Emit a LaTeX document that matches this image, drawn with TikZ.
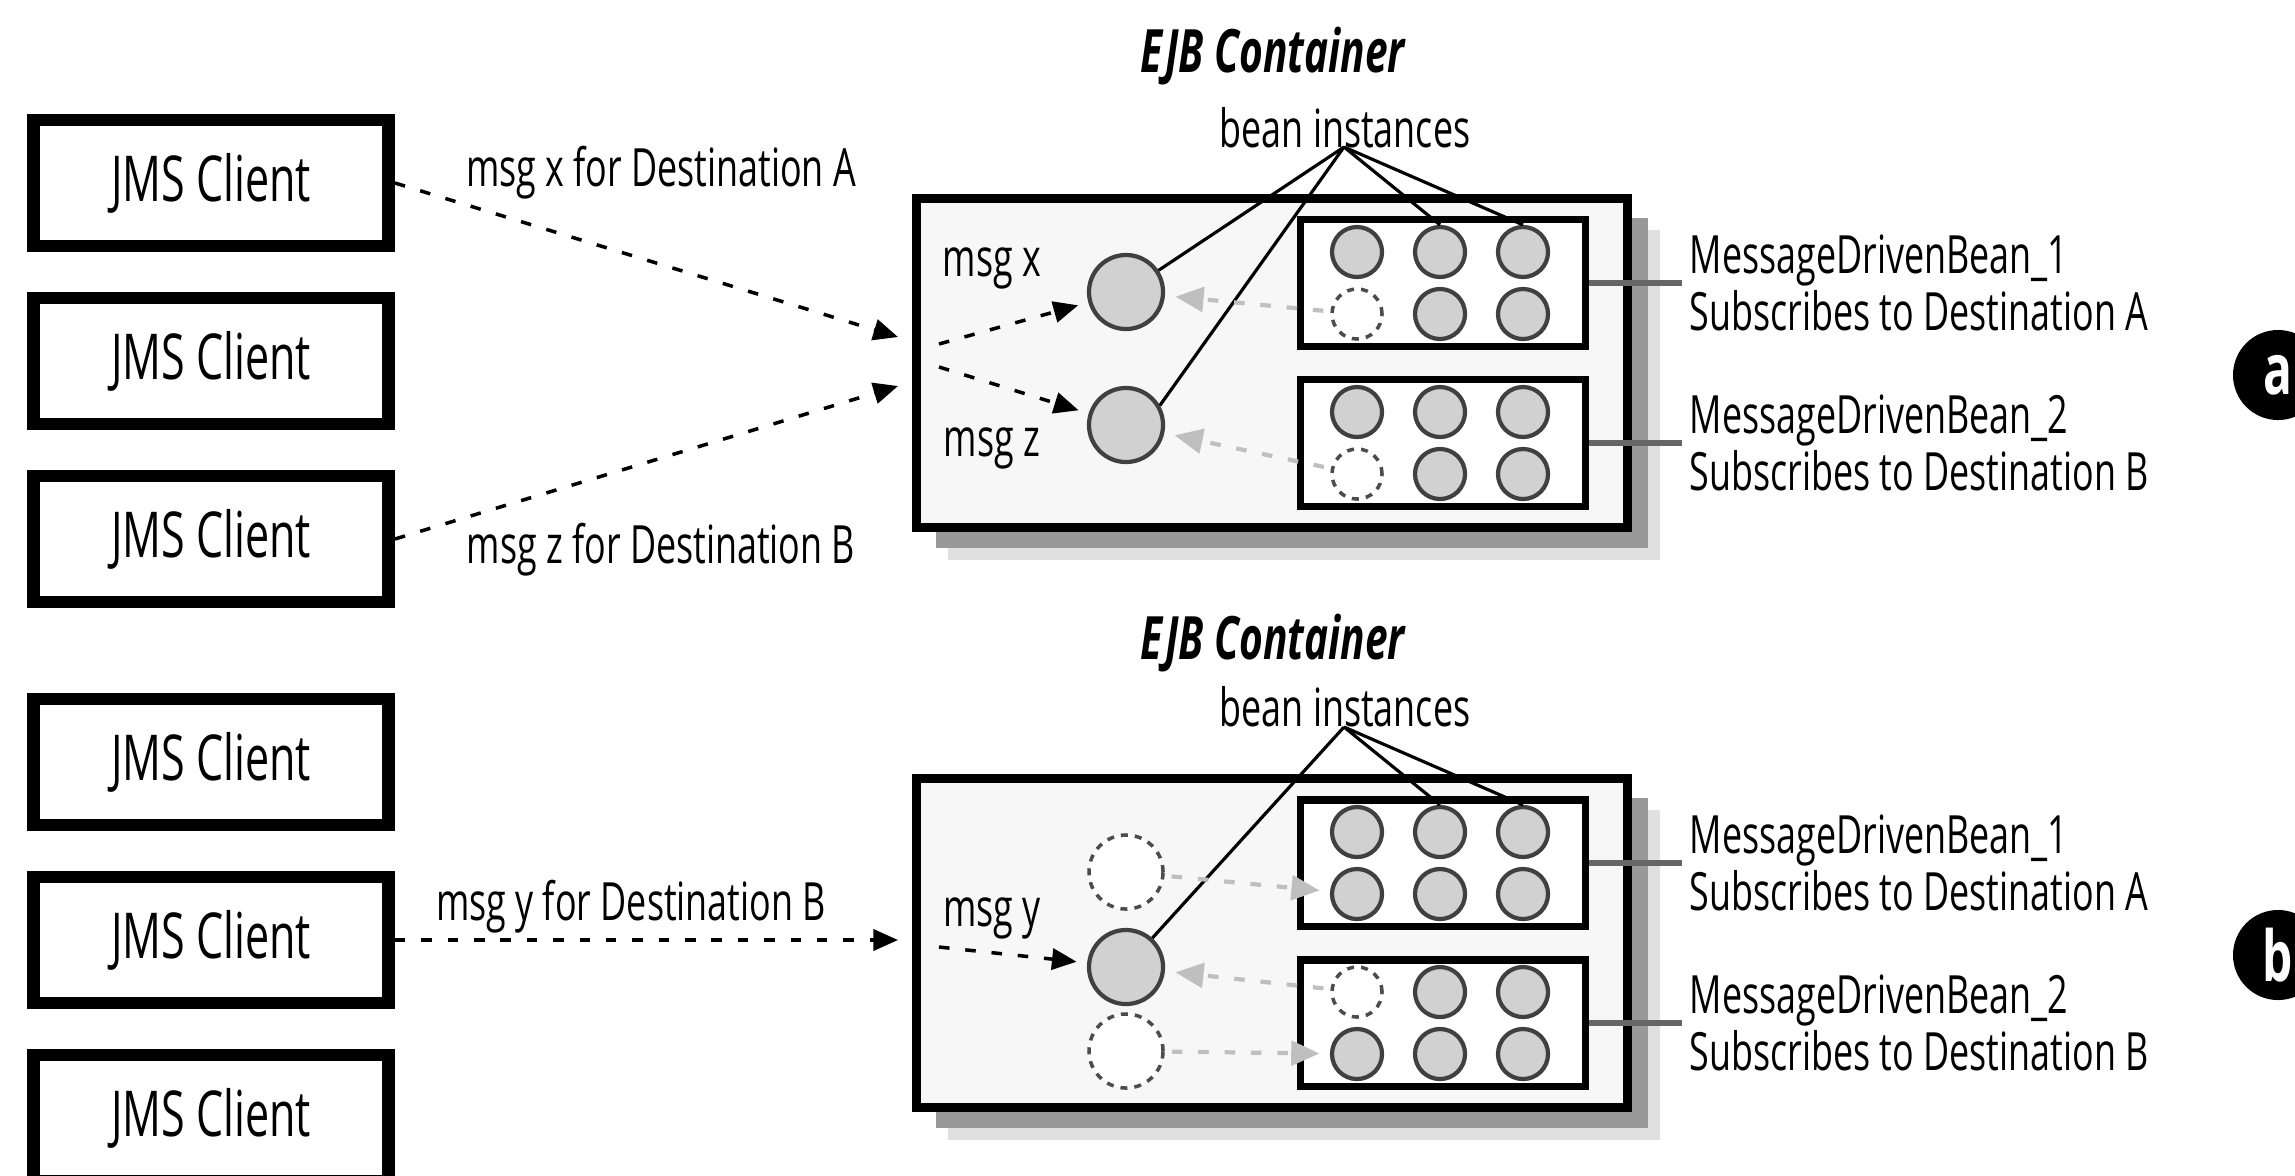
\documentclass[tikz,border=0pt]{standalone}
\usepackage{fontspec}
\setmainfont{Open Sans}[FakeStretch=0.68]
\usetikzlibrary{arrows.meta,shadows}

\begin{document}
\begin{tikzpicture}[x=0.01cm,y=-0.01cm,
    client/.style={draw,line width=3.6pt,minimum width=3.55cm,minimum height=1.26cm,inner sep=0pt,font=\fontsize{18}{18}\selectfont},
    ejb/.style={draw,line width=2.5pt,fill=black!3,minimum width=7.11cm,minimum height=3.29cm,
      drop shadow={shadow xshift=.32cm,shadow yshift=-.32cm,fill=black!12,opacity=1},
      drop shadow={shadow xshift=.2cm,shadow yshift=-.2cm,fill=black!40,opacity=1}},
    mdb/.style={draw,line width=2pt,fill=white,minimum width=2.85cm,minimum height=1.26cm},
    bean/.style={circle,draw=black!75,line width=1.2pt,fill=black!18,minimum size=.5cm,inner sep=0pt},
    idlebean/.style={circle,draw=black!70,line width=1pt,dash pattern=on 2pt off 2pt,fill=white,minimum size=.5cm,inner sep=0pt},
    bigbean/.style={bean,minimum size=.74cm},
    bigidle/.style={idlebean,minimum size=.74cm},
    lbl/.style={font=\fontsize{15}{14.5}\selectfont,inner sep=2pt,align=left},
    ejbtitle/.style={font=\fontsize{17}{17}\selectfont\bfseries\itshape},
    msg/.style={line width=1pt,dash pattern=on 3pt off 4.5pt,-{Triangle[length=7pt,width=6pt]}},
    backarrow/.style={draw=black!25,line width=1.2pt,dash pattern=on 3pt off 4.5pt,-{Triangle[length=8pt,width=7pt]},shorten >=3pt,shorten <=2pt},
    fan/.style={line width=.9pt},
    tickline/.style={draw=black!60,line width=1.5pt},
    casetag/.style={circle,fill=black,text=white,minimum size=.9cm,inner sep=0pt,font=\fontsize{20}{20}\selectfont\bfseries}]
  \useasboundingbox[fill=white] (0,0) rectangle (2295,1175);
  \path
    (211,183) node[client] (c1) {JMS Client}
    (211,361) node[client] (c2) {JMS Client}
    (211,539) node[client] (c3) {JMS Client}
    (211,762) node[client] (c4) {JMS Client}
    (211,940) node[client] (c5) {JMS Client}
    (211,1118) node[client] (c6) {JMS Client};
  \path
    (1272,363) node[ejb] (ejbA) {}
    (1272,943) node[ejb] (ejbB) {}
    (1273,56) node[ejbtitle] (titleA) {EJB Container}
    (1273,643) node[ejbtitle] (titleB) {EJB Container}
    (1345,128) node[lbl] (instA) {bean instances}
    (1345,707) node[lbl] (instB) {bean instances};
  \path
    (1443,283) node[mdb] (mdbA1) {}
    (1443,443) node[mdb] (mdbA2) {}
    (1443,863) node[mdb] (mdbB1) {}
    (1443,1023) node[mdb] (mdbB2) {};
  \path
    (1357,252) node[bean] (p11) {}
    (1440,252) node[bean] (p12) {}
    (1523,252) node[bean] (p13) {}
    (1357,314) node[idlebean] (p21) {}
    (1440,314) node[bean] (p22) {}
    (1523,314) node[bean] (p23) {}
    (1357,412) node[bean] (q11) {}
    (1440,412) node[bean] (q12) {}
    (1523,412) node[bean] (q13) {}
    (1357,474) node[idlebean] (q21) {}
    (1440,474) node[bean] (q22) {}
    (1523,474) node[bean] (q23) {}
    (1357,832) node[bean] (r11) {}
    (1440,832) node[bean] (r12) {}
    (1523,832) node[bean] (r13) {}
    (1357,894) node[bean] (r21) {}
    (1440,894) node[bean] (r22) {}
    (1523,894) node[bean] (r23) {}
    (1357,992) node[idlebean] (s11) {}
    (1440,992) node[bean] (s12) {}
    (1523,992) node[bean] (s13) {}
    (1357,1054) node[bean] (s21) {}
    (1440,1054) node[bean] (s22) {}
    (1523,1054) node[bean] (s23) {};
  \path
    (1126,292) node[bigbean] (bigx) {}
    (1126,425) node[bigbean] (bigz) {}
    (1126,872) node[bigidle] (idleu) {}
    (1126,967) node[bigbean] (bigy) {}
    (1126,1051) node[bigidle] (idled) {};
  \path
    (661,173) node[lbl] (msgxA) {msg x for Destination A}
    (661,550) node[lbl] (msgzA) {msg z for Destination B}
    (631,907) node[lbl] (msgyB) {msg y for Destination B}
    (992,268) node[lbl] (xtag) {msg x}
    (992,448) node[lbl] (ztag) {msg z}
    (992,918) node[lbl] (ytag) {msg y};
  \path
    (1682,283) node[lbl,anchor=west] (mdbA1l) {MessageDrivenBean\_1\\Subscribes to Destination A}
    (1682,443) node[lbl,anchor=west] (mdbA2l) {MessageDrivenBean\_2\\Subscribes to Destination B}
    (1682,863) node[lbl,anchor=west] (mdbB1l) {MessageDrivenBean\_1\\Subscribes to Destination A}
    (1682,1023) node[lbl,anchor=west] (mdbB2l) {MessageDrivenBean\_2\\Subscribes to Destination B};
  \path
    (2278,375) node[casetag] (tagA) {a}
    (2278,955) node[casetag] (tagB) {b};
  \coordinate (inA1) at (898,337);
  \coordinate (inA2) at (898,386);
  \coordinate (inB) at (898,940);
  \coordinate (outA1) at (939,344);
  \coordinate (outA2) at (939,367);
  \coordinate (outB) at (939,947);
  \coordinate (apexA) at (1344,147);
  \coordinate (apexB) at (1344,727);
  \begin{scope}[msg]
    \draw (c1.east) to (inA1);
    \draw (c3.east) to (inA2);
    \draw (c5.east) to (inB);
    \draw[shorten >=3pt] (outA1) to (bigx);
    \draw[shorten >=3pt] (outA2) to (bigz);
    \draw[shorten >=3pt] (outB) to (bigy);
  \end{scope}
  \begin{scope}[fan]
    \draw (apexA) to (bigx);
    \draw (apexA) to (bigz.30);
    \draw (apexA) to (p12.north);
    \draw (apexA) to (p13.north);
    \draw (apexB) to (bigy);
    \draw (apexB) to (r12.north);
    \draw (apexB) to (r13.north);
  \end{scope}
  \begin{scope}[backarrow]
    \draw (p21) to (bigx);
    \draw (q21) to (bigz);
    \draw (idleu) to (r21);
    \draw (s11) to (bigy);
    \draw (idled) to (s21);
  \end{scope}
  \begin{scope}[tickline]
    \draw (mdbA1.east) to (mdbA1l.west);
    \draw (mdbA2.east) to (mdbA2l.west);
    \draw (mdbB1.east) to (mdbB1l.west);
    \draw (mdbB2.east) to (mdbB2l.west);
  \end{scope}
\end{tikzpicture}
\end{document}
